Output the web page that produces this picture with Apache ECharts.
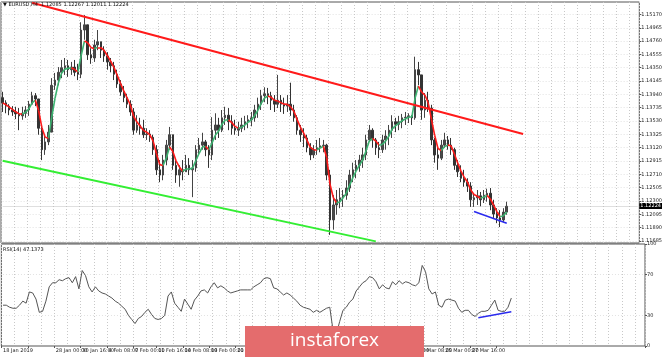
<!DOCTYPE html>
<html><head><meta charset="utf-8">
<script src="https://cdn.jsdelivr.net/npm/echarts@6/dist/echarts.min.js"></script>
<style>html,body{margin:0;padding:0;background:#fff}#c{width:665px;height:357px}</style>
</head><body><div id="c"></div>
<script>
const xLabels = ["18 Jan 2019","23 Jan 08:00","28 Jan 00:00","30 Jan 16:00","4 Feb 08:00","7 Feb 00:00","11 Feb 16:00","14 Feb 08:00","19 Feb 00:00","21 Feb 16:00","26 Feb 08:00","1 Mar 00:00","5 Mar 16:00","8 Mar 08:00","13 Mar 00:00","15 Mar 16:00","20 Mar 08:00","25 Mar 00:00","27 Mar 16:00","1 Apr 08:00"];
const priceTickLabels = ["1.11685","1.11890","1.12095","1.12300","1.12505","1.12710","1.12915","1.13120","1.13325","1.13530","1.13735","1.13940","1.14145","1.14350","1.14555","1.14760","1.14965","1.15170"];
const rsiTicks = [0,30,70,100];
const rsiLevels = [30,70];
const firstOpen = 1.1389;
const closes = [1.1381,1.1376,1.1370,1.1367,1.1364,1.1361,1.1365,1.1370,1.1379,1.1392,
 1.1387,1.1342,1.1309,1.1321,1.1336,1.1408,1.1416,1.1428,1.1435,1.1438,
 1.1432,1.1436,1.1428,1.1425,1.1493,1.1501,1.1455,1.1450,1.1470,1.1475,
 1.1462,1.1453,1.1444,1.1438,1.1425,1.1410,1.1398,1.1389,1.1379,1.1367,
 1.1339,1.1347,1.1342,1.1332,1.1333,1.1328,1.1309,1.1278,1.1270,1.1293,
 1.1316,1.1332,1.1285,1.1270,1.1278,1.1275,1.1285,1.1278,1.1281,1.1309,
 1.1316,1.1321,1.1309,1.1301,1.1339,1.1347,1.1339,1.1358,1.1362,1.1352,
 1.1342,1.1339,1.1342,1.1347,1.1352,1.1355,1.1358,1.1370,1.1379,1.1392,
 1.1395,1.1392,1.1385,1.1379,1.1385,1.1379,1.1376,1.1379,1.1370,1.1358,
 1.1339,1.1332,1.1327,1.1312,1.1301,1.1309,1.1312,1.1315,1.1316,1.1270,
 1.1201,1.1224,1.1232,1.1235,1.1239,1.1250,1.1270,1.1278,1.1285,1.1293,
 1.1301,1.1324,1.1339,1.1324,1.1312,1.1309,1.1324,1.1330,1.1339,1.1352,
 1.1348,1.1352,1.1358,1.1359,1.1361,1.1358,1.1432,1.1424,1.1370,1.1385,
 1.1373,1.1324,1.1301,1.1296,1.1316,1.1324,1.1316,1.1309,1.1285,1.1275,
 1.1265,1.1259,1.1253,1.1232,1.1235,1.1238,1.1232,1.1239,1.1242,1.1224,
 1.1210,1.1204,1.1201,1.1213,1.1222];
const highs = [1.1398,1.1385,1.1379,1.1376,1.1375,1.1373,1.1375,1.1376,1.1384,1.1398,
 1.1396,1.1385,1.1347,1.1332,1.1347,1.1419,1.1427,1.1436,1.1447,1.1450,
 1.1447,1.1444,1.1447,1.1441,1.1505,1.1516,1.1501,1.1465,1.1478,1.1493,
 1.1475,1.1468,1.1459,1.1450,1.1444,1.1432,1.1416,1.1407,1.1395,1.1385,
 1.1373,1.1362,1.1358,1.1355,1.1342,1.1339,1.1332,1.1316,1.1293,1.1301,
 1.1324,1.1344,1.1332,1.1293,1.1285,1.1293,1.1301,1.1296,1.1293,1.1316,
 1.1327,1.1335,1.1324,1.1316,1.1359,1.1365,1.1358,1.1370,1.1375,1.1373,
 1.1362,1.1355,1.1352,1.1358,1.1361,1.1362,1.1367,1.1378,1.1389,1.1401,
 1.1405,1.1404,1.1398,1.1393,1.1424,1.1393,1.1389,1.1393,1.1412,1.1378,
 1.1362,1.1347,1.1342,1.1332,1.1319,1.1316,1.1324,1.1327,1.1324,1.1318,
 1.1278,1.1239,1.1247,1.1250,1.1247,1.1262,1.1278,1.1289,1.1293,1.1301,
 1.1312,1.1332,1.1347,1.1342,1.1327,1.1321,1.1332,1.1339,1.1347,1.1362,
 1.1358,1.1361,1.1364,1.1367,1.1365,1.1362,1.1452,1.1444,1.1424,1.1396,
 1.1398,1.1378,1.1327,1.1312,1.1324,1.1335,1.1330,1.1327,1.1312,1.1293,
 1.1285,1.1278,1.1265,1.1259,1.1242,1.1247,1.1244,1.1247,1.1249,1.1250,
 1.1232,1.1219,1.1216,1.1219,1.1229];
const lows = [1.1367,1.1365,1.1362,1.1361,1.1356,1.1339,1.1355,1.1358,1.1361,1.1379,
 1.1376,1.1332,1.1293,1.1301,1.1316,1.1339,1.1401,1.1408,1.1419,1.1424,
 1.1421,1.1424,1.1422,1.1416,1.1419,1.1478,1.1447,1.1441,1.1444,1.1462,
 1.1450,1.1444,1.1432,1.1428,1.1416,1.1404,1.1392,1.1382,1.1373,1.1361,
 1.1332,1.1335,1.1332,1.1327,1.1324,1.1321,1.1301,1.1270,1.1259,1.1262,
 1.1285,1.1309,1.1278,1.1258,1.1252,1.1262,1.1275,1.1270,1.1236,1.1275,
 1.1301,1.1309,1.1299,1.1281,1.1293,1.1324,1.1327,1.1336,1.1347,1.1339,
 1.1332,1.1332,1.1330,1.1336,1.1339,1.1342,1.1345,1.1352,1.1358,1.1370,
 1.1382,1.1379,1.1370,1.1367,1.1373,1.1367,1.1364,1.1367,1.1361,1.1352,
 1.1332,1.1321,1.1313,1.1305,1.1293,1.1296,1.1301,1.1305,1.1305,1.1262,
 1.1178,1.1186,1.1209,1.1219,1.1221,1.1232,1.1244,1.1259,1.1265,1.1275,
 1.1281,1.1293,1.1321,1.1312,1.1301,1.1296,1.1304,1.1309,1.1316,1.1327,
 1.1336,1.1339,1.1342,1.1347,1.1350,1.1347,1.1355,1.1408,1.1355,1.1358,
 1.1367,1.1316,1.1289,1.1278,1.1293,1.1312,1.1309,1.1301,1.1278,1.1267,
 1.1259,1.1252,1.1244,1.1221,1.1221,1.1224,1.1222,1.1227,1.1229,1.1216,
 1.1204,1.1196,1.1190,1.1198,1.1209];
const rsi = [40,40,38,37,37,40,44,42,53,52,
 46,33,34,44,58,62,62,65,64,66,
 67,62,68,56,74,69,58,53,58,54,
 52,51,49,47,44,42,39,36,30,26,
 22,27,29,33,36,31,27,26,27,30,
 49,53,42,38,34,46,41,36,45,49,
 54,55,52,58,62,57,59,57,54,52,
 53,54,55,55,55,55,58,60,62,66,
 67,66,57,56,53,50,52,50,47,44,
 40,38,37,36,33,35,33,35,37,38,
 15,12,24,35,38,43,46,54,58,62,
 64,68,67,63,56,60,57,56,63,60,
 64,61,63,62,60,59,62,79,73,56,
 51,53,40,38,45,46,45,44,37,33,
 35,35,31,29,32,34,34,35,40,45,
 35,34,34,38,47];
const lastPrice = 1.12224;
const redChannel = [[9,1.1535],[159,1.1333]];
const greenChannel = [[0,1.1292],[114,1.1168]];
const blueLowLine = [[144,1.1214],[154,1.1196]];
const blueRsiLine = [[144,27.7],[154,33.5]];

const SLOTS = 195;
const N = closes.length;
const cats = Array.from({length: SLOTS}, (_, i) => 's' + i);
const opens = closes.map((c, i) => i === 0 ? firstOpen : closes[i - 1]);
const candles = closes.map((c, i) => [opens[i], c, lows[i], highs[i]]);
const labelAt = {};
xLabels.forEach((t, k) => { labelAt[Math.round(k * 7.9)] = t; });
const priceTicks = priceTickLabels.map(parseFloat);
const ma = closes.map((c, i) => { let s = 0, w = 0; for (let j = 0; j < 4 && i - j >= 0; j++) { s += (4 - j) * closes[i - j]; w += 4 - j; } return s / w; });
const maSegs = [];
for (let i = 1; i < N; i++) {
  maSegs.push({coords: [[i - 1, ma[i - 1]], [i, ma[i]]], lineStyle: {color: ma[i] < ma[i - 1] ? '#ff1a1a' : '#3cb371'}});
}
const hLine = (v) => ({coords: [[0, v], [SLOTS - 1, v]]});
const FONT = 'DejaVu Sans';
const dotted = {color: '#c8c8c8', type: [1, 2], width: 1};
const labelBase = {fontSize: 5, color: '#222', margin: 2, fontFamily: FONT, hideOverlap: false};

const chart = echarts.init(document.getElementById('c'), null, {renderer: 'canvas'});
chart.setOption({
  animation: false,
  backgroundColor: '#ffffff',
  textStyle: {fontFamily: FONT},
  grid: [
    {left: 1, right: 20, top: 2, height: 241, show: true, borderColor: '#555', borderWidth: 1, backgroundColor: 'transparent'},
    {left: 1, right: 20, top: 244, height: 102, show: true, borderColor: '#555', borderWidth: 1, backgroundColor: 'transparent'}
  ],
  xAxis: [
    {type: 'category', gridIndex: 0, data: cats, boundaryGap: true, axisLine: {show: false}, axisTick: {show: false}, axisLabel: {show: false}, splitLine: {show: true, interval: 3, lineStyle: dotted}},
    {type: 'category', gridIndex: 1, data: cats, boundaryGap: true, axisLine: {show: false},
     axisTick: {show: true, interval: (idx) => labelAt[idx] !== undefined, length: 2, lineStyle: {color: '#555'}},
     axisLabel: Object.assign({show: true, interval: (idx) => labelAt[idx] !== undefined, formatter: (v, idx) => labelAt[idx] || '', align: 'left', showMinLabel: true}, labelBase),
     splitLine: {show: true, interval: 3, lineStyle: dotted}}
  ],
  yAxis: [
    {type: 'value', gridIndex: 0, position: 'right', min: 1.11655, max: 1.15361, axisLine: {show: false},
     axisTick: {show: true, customValues: priceTicks, length: 2, lineStyle: {color: '#555'}},
     axisLabel: Object.assign({show: true, customValues: priceTicks, formatter: (v) => v.toFixed(5)}, labelBase),
     splitLine: {show: false}},
    {type: 'value', gridIndex: 1, position: 'right', min: 0, max: 100, axisLine: {show: false},
     axisTick: {show: true, customValues: rsiTicks, length: 2, lineStyle: {color: '#555'}},
     axisLabel: Object.assign({show: true, customValues: rsiTicks, formatter: (v) => String(Math.round(v))}, labelBase),
     splitLine: {show: false}},
    {type: 'value', gridIndex: 0, position: 'right', min: 1.11655, max: 1.15361, axisLine: {show: false},
     axisTick: {show: false},
     axisLabel: {show: true, customValues: [lastPrice], formatter: (v) => v.toFixed(5), fontSize: 5, color: '#fff', backgroundColor: '#000', padding: [1, 1, 0, 1], margin: 0, fontFamily: FONT},
     splitLine: {show: false}}
  ],
  series: [
    {type: 'lines', coordinateSystem: 'cartesian2d', xAxisIndex: 0, yAxisIndex: 0, silent: true, z: 1,
     data: priceTicks.map(hLine), lineStyle: dotted},
    {type: 'lines', coordinateSystem: 'cartesian2d', xAxisIndex: 0, yAxisIndex: 0, silent: true, z: 2,
     data: [hLine(lastPrice)], lineStyle: {color: '#c0c0c0', type: 'solid', width: 1}},
    {type: 'candlestick', xAxisIndex: 0, yAxisIndex: 0, data: candles, barWidth: 2, z: 3,
     itemStyle: {color: '#4a4a4a', color0: '#333333', borderColor: '#444444', borderColor0: '#333333', borderWidth: 1}},
    {type: 'lines', coordinateSystem: 'cartesian2d', xAxisIndex: 0, yAxisIndex: 0, data: maSegs, z: 4, silent: true,
     lineStyle: {width: 1.6, opacity: 1}},
    {type: 'line', xAxisIndex: 0, yAxisIndex: 0, data: redChannel, symbol: 'none', z: 5, silent: true, lineStyle: {color: '#ff1a1a', width: 2}},
    {type: 'line', xAxisIndex: 0, yAxisIndex: 0, data: greenChannel, symbol: 'none', z: 5, silent: true, lineStyle: {color: '#33ee33', width: 2}},
    {type: 'line', xAxisIndex: 0, yAxisIndex: 0, data: blueLowLine, symbol: 'none', z: 5, silent: true, lineStyle: {color: '#2a2aee', width: 1.6}},
    {type: 'lines', coordinateSystem: 'cartesian2d', xAxisIndex: 1, yAxisIndex: 1, silent: true, z: 1,
     data: rsiLevels.map(hLine), lineStyle: dotted},
    {type: 'line', xAxisIndex: 1, yAxisIndex: 1, data: rsi, symbol: 'none', z: 3, silent: true, lineStyle: {color: '#555', width: 1}},
    {type: 'line', xAxisIndex: 1, yAxisIndex: 1, data: blueRsiLine, symbol: 'none', z: 5, silent: true, lineStyle: {color: '#2a2aee', width: 1.6}}
  ],
  graphic: [
    {type: 'text', left: 3, top: 2, z: 50, style: {text: '\u25BC EURUSD,H4  1.12085 1.12267 1.12011 1.12224', fontSize: 5, fill: '#111', fontFamily: FONT}},
    {type: 'text', left: 3, top: 247, z: 50, style: {text: 'RSI(14) 47.1373', fontSize: 5, fill: '#111', fontFamily: FONT}},
    {type: 'rect', z: 100, shape: {x: 245, y: 326, width: 179, height: 40}, style: {fill: '#e46c6d'}},
    {type: 'text', z: 101, x: 334.5, y: 341, style: {text: 'instaforex', fontSize: 19, fontFamily: 'Open Sans', fill: '#ffffff', textAlign: 'center', textVerticalAlign: 'middle'}}
  ]
});
</script>
</body></html>
